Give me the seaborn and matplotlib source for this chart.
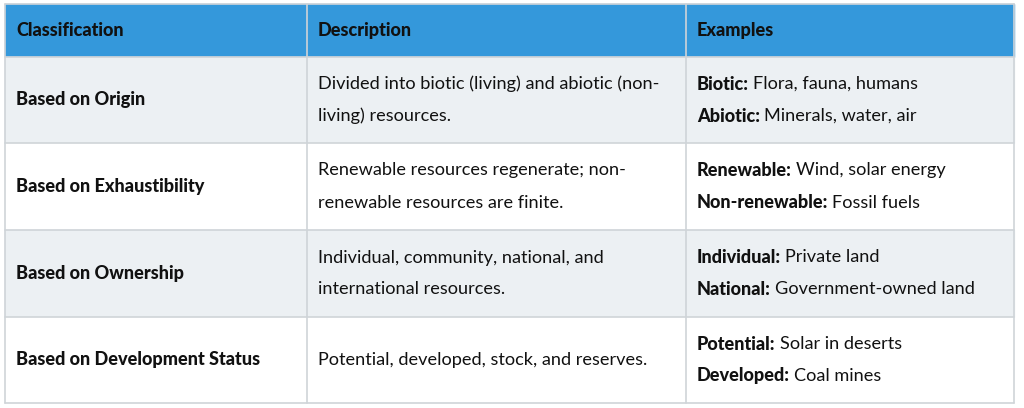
import matplotlib
matplotlib.use("Agg")
import matplotlib.pyplot as plt
import seaborn as sns
from matplotlib.patches import Rectangle

headers = ["Classification", "Description", "Examples"]
classifications = ["Based on Origin", "Based on Exhaustibility", "Based on Ownership", "Based on Development Status"]
descriptions = [
    ["Divided into biotic (living) and abiotic (non-", "living) resources."],
    ["Renewable resources regenerate; non-", "renewable resources are finite."],
    ["Individual, community, national, and", "international resources."],
    ["Potential, developed, stock, and reserves."],
]
examples = [
    [("Biotic:", "Flora, fauna, humans"), ("Abiotic:", "Minerals, water, air")],
    [("Renewable:", "Wind, solar energy"), ("Non-renewable:", "Fossil fuels")],
    [("Individual:", "Private land"), ("National:", "Government-owned land")],
    [("Potential:", "Solar in deserts"), ("Developed:", "Coal mines")],
]

sns.set_theme(style="white", rc={"font.family": "Lato"})
fig = plt.figure(figsize=(10.24, 4.08), dpi=100)
ax = fig.add_axes([0, 0, 1, 1])
ax.set_xlim(0, 1024); ax.set_ylim(408, 0); ax.axis("off")

cols = [5, 307, 686, 1014]
rows = [4, 57, 143, 230, 317, 403]
border = "#cfd4d8"
fs = 13.1
txt = "#111111"
bw = "heavy"

ax.add_patch(Rectangle((cols[0], rows[0]), cols[-1]-cols[0], rows[1]-rows[0], color="#3498db", zorder=0))
for i in range(4):
    c = "#ecf0f3" if i % 2 == 0 else "white"
    ax.add_patch(Rectangle((cols[0], rows[i+1]), cols[-1]-cols[0], rows[i+2]-rows[i+1], color=c, zorder=0))
for x in cols:
    ax.plot([x, x], [rows[0], rows[-1]], color=border, lw=1.2, zorder=1)
for y in rows:
    ax.plot([cols[0], cols[-1]], [y, y], color=border, lw=1.2, zorder=1)

pad = 11
for j, h in enumerate(headers):
    ax.text(cols[j]+pad, (rows[0]+rows[1])/2, h, fontsize=fs, fontweight=bw, color=txt, va="center")

fig.canvas.draw()
r = fig.canvas.get_renderer()
inv = ax.transData.inverted()
for i in range(4):
    yc = (rows[i+1]+rows[i+2])/2
    ax.text(cols[0]+pad, yc, classifications[i], fontsize=fs, fontweight=bw, color=txt, va="center")
    d = descriptions[i]
    offs = [0] if len(d) == 1 else [-16, 16]
    for line, o in zip(d, offs):
        ax.text(cols[1]+pad, yc+o, line, fontsize=fs, color=txt, va="center")
    for (b, rest), o in zip(examples[i], [-16, 16]):
        t = ax.text(cols[2]+pad, yc+o, b, fontsize=fs, fontweight=bw, color=txt, va="center")
        bb = t.get_window_extent(renderer=r)
        xe = inv.transform((bb.x1, bb.y0))[0]
        ax.text(xe + 4, yc+o, rest, fontsize=fs, color=txt, va="center")

fig.savefig("out.png", dpi=100)
